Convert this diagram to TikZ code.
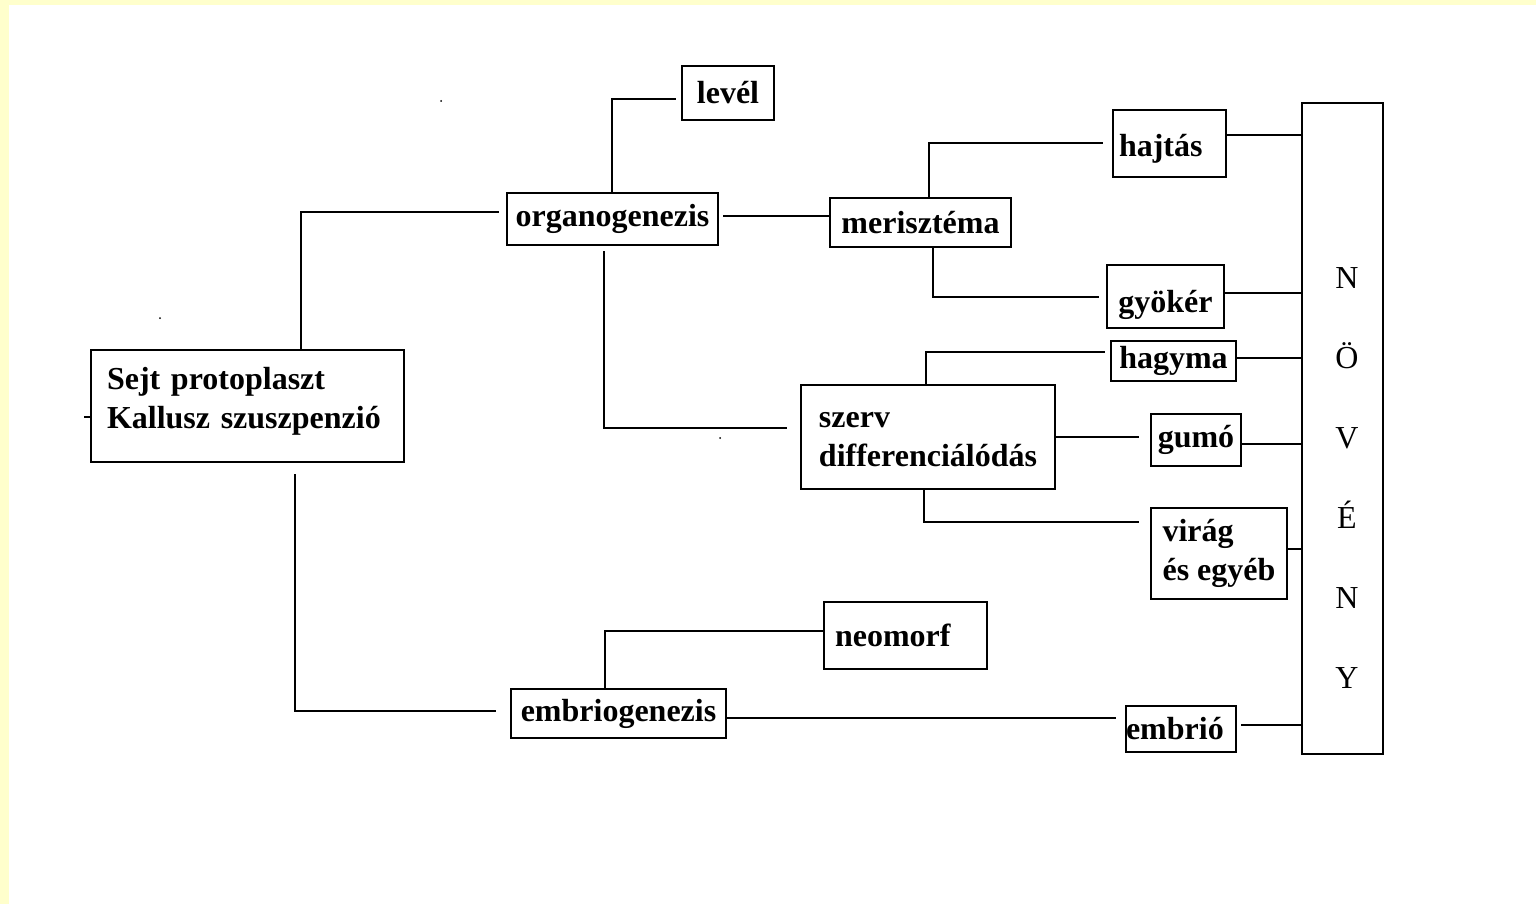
\documentclass[tikz,border=0pt]{standalone}
\usepackage{fontspec}
\setmainfont{Liberation Serif}
\definecolor{bgy}{HTML}{FFFFCC}
\newcommand{\shiftline}[2]{\raisebox{#1}[\height][\depth]{#2}}
\begin{document}
\begin{tikzpicture}[x=0.5pt,y=-0.5pt,
  box/.style={draw, line width=1pt, inner sep=0pt, align=left,
    font=\bfseries\fontsize{16}{19.5}\selectfont},
  ln/.style={line width=1pt},
  letter/.style={anchor=base, inner sep=0pt, font=\fontsize{16}{19.5}\selectfont}]
\fill[bgy] (0,0) rectangle (1536,904);
\fill[white] (9,5) rectangle (1536,904);
\useasboundingbox (0,0) rectangle (1536,904);

% boxes
\node[box, minimum width=156.5pt, minimum height=56pt, text width=140.5pt] (sejt) at (247.5,406) {\shiftline{2.5pt}{Sejt protoplaszt}\\\shiftline{2.5pt}{Kallusz szuszpenzió}};
\node[box, minimum width=105.5pt, minimum height=26pt] (organo) at (612.5,219) {organogenezis};
\node[box, minimum width=46pt, minimum height=27pt] (level) at (728,93) {levél};
\node[box, minimum width=90.5pt, minimum height=24.5pt] (merisz) at (920.5,222.5) {merisztéma};
\node[box, minimum width=56.5pt, minimum height=33.5pt, text width=50.5pt, text height=16pt, text depth=3.5pt] (hajtas) at (1169.5,143.5) {hajtás};
\node[box, minimum width=58.5pt, minimum height=31.5pt, text height=19pt, text depth=3.5pt] (gyoker) at (1165.5,296.5) {gyökér};
\node[box, minimum width=62.5pt, minimum height=20pt] (hagyma) at (1173.5,361) {hagyma};
\node[box, minimum width=127pt, minimum height=52pt] (szerv) at (928,437) {\shiftline{-1.5pt}{szerv}\\\shiftline{-1.5pt}{differenciálódás}};
\node[box, minimum width=45pt, minimum height=26pt] (gumo) at (1196,440) {gumó};
\node[box, minimum width=68pt, minimum height=45.5pt] (virag) at (1219,553.5) {virág\\és egyéb};
\node[box, minimum width=81.5pt, minimum height=33.5pt, text width=70.5pt] (neomorf) at (905.5,635.5) {neomorf};
\node[box, minimum width=107.5pt, minimum height=24.5pt] (embriog) at (618.5,713.5) {embriogenezis};
\node[box, minimum width=55pt, minimum height=23pt, text width=55pt] (embrio) at (1181,729) {embrió};
\node[box, minimum width=40.5pt, minimum height=325.5pt] (noveny) at (1342.5,428.5) {};

\foreach \l [count=\i from 0] in {N,Ö,V,É,N,Y}
  \node[letter] (l\i) at (1347,288+80*\i) {\l};

% connectors
\draw[ln, shorten >=3.5pt] (301,0 |- sejt.north) -- (301,212) -- (0,212 -| organo.west);
\draw[ln, shorten <=5.5pt, shorten >=7pt] (295,0 |- sejt.south) -- (295,711) -- (0,711 -| embriog.west);
\draw[ln] (0,417 -| sejt.west) -- ++(-6,0);
\draw[ln, shorten <=2pt] (0,216 -| organo.east) -- (0,216 -| merisz.west);
\draw[ln, shorten >=2.5pt] (612,0 |- organo.north) -- (612,99) -- (0,99 -| level.west);
\draw[ln, shorten <=2.5pt, shorten >=6.5pt] (604,0 |- organo.south) -- (604,428) -- (0,428 -| szerv.west);
\draw[ln, shorten >=4.5pt] (929,0 |- merisz.north) -- (929,143) -- (0,143 -| hajtas.west);
\draw[ln, shorten >=3.5pt] (933,0 |- merisz.south) -- (933,297) -- (0,297 -| gyoker.west);
\draw[ln] (0,135 -| hajtas.east) -- (0,135 -| noveny.west);
\draw[ln] (0,293 -| gyoker.east) -- (0,293 -| noveny.west);
\draw[ln, shorten >=2.5pt] (926,0 |- szerv.north) -- (926,352) -- (0,352 -| hagyma.west);
\draw[ln] (0,358 -| hagyma.east) -- (0,358 -| noveny.west);
\draw[ln, shorten >=5.5pt] (0,437 -| szerv.east) -- (0,437 -| gumo.west);
\draw[ln] (0,444 -| gumo.east) -- (0,444 -| noveny.west);
\draw[ln, shorten >=5.5pt] (924,0 |- szerv.south) -- (924,522) -- (0,522 -| virag.west);
\draw[ln] (0,549 -| virag.east) -- (0,549 -| noveny.west);
\draw[ln] (605,0 |- embriog.north) -- (605,631) -- (0,631 -| neomorf.west);
\draw[ln, shorten >=4.5pt] (0,718 -| embriog.east) -- (0,718 -| embrio.west);
\draw[ln, shorten <=2pt] (0,725 -| embrio.east) -- (0,725 -| noveny.west);

% stray specks
\fill (441,101) circle (1);
\fill (160,318) circle (1);
\fill (720,438) circle (1);
\end{tikzpicture}
\end{document}
